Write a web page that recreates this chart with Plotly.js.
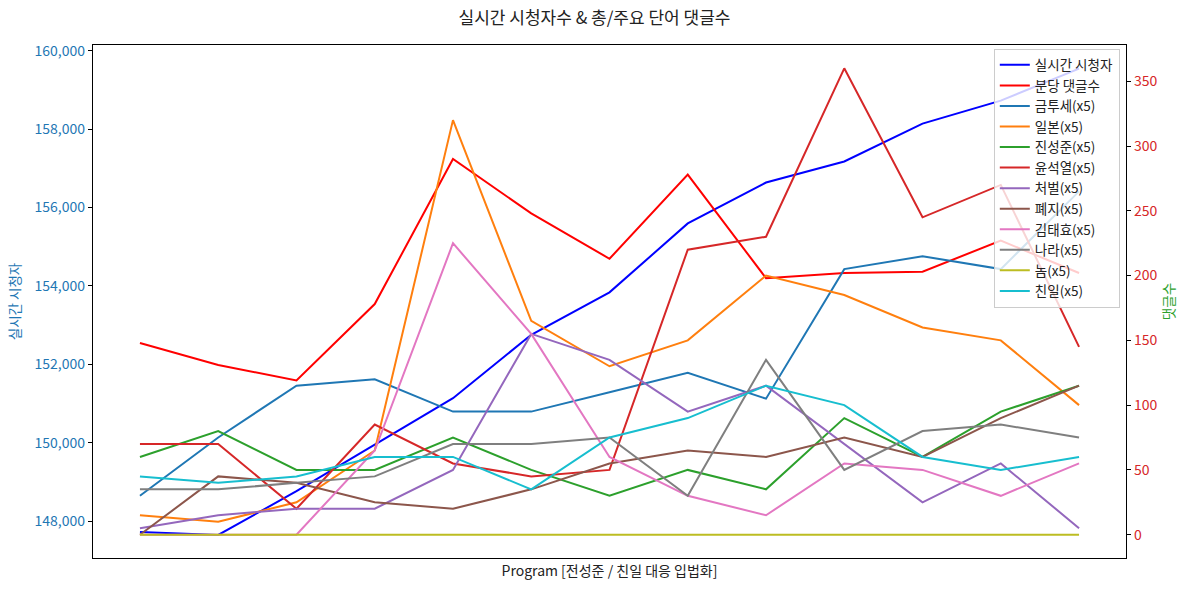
<!DOCTYPE html>
<html>
<head>
<meta charset="utf-8">
<script src="https://cdn.plot.ly/plotly-3.0.1.min.js"></script>
<style>body{margin:0;padding:0;background:#fff;}#chart{width:1189px;height:593px;}</style>
</head>
<body>
<div id="chart"></div>
<script>
const xIndex = [0,1,2,3,4,5,6,7,8,9,10,11,12];
const viewers = [147720,147643,148760,149936,151134,152750,153834,155592,156637,157172,158140,158726,159541];
const commentsPerMin = [148,131,119,178,290,248,213,278,198,202,203,227,202];
const kwNames = ['금투세(x5)','일본(x5)','진성준(x5)','윤석열(x5)','처벌(x5)','폐지(x5)','김태효(x5)','나라(x5)','놈(x5)','친일(x5)'];
const kwColors = ['#1f77b4','#ff7f0e','#2ca02c','#d62728','#9467bd','#8c564b','#e377c2','#7f7f7f','#bcbd22','#17becf'];
const kw금투세 = [30,75,115,120,95,95,110,125,105,205,215,205,265];
const kw일본 = [15,10,25,65,320,165,130,150,200,185,160,150,100];
const kw진성준 = [60,80,50,50,75,50,30,50,35,90,60,95,115];
const kw윤석열 = [70,70,20,85,55,45,50,220,230,360,245,270,145];
const kw처벌 = [5,15,20,20,50,155,135,95,115,70,25,55,5];
const kw폐지 = [0,45,40,25,20,35,55,65,60,75,60,90,115];
const kw김태효 = [0,0,0,65,225,155,60,30,15,55,50,30,55];
const kw나라 = [35,35,40,45,70,70,75,30,135,50,80,85,75];
const kw놈 = [0,0,0,0,0,0,0,0,0,0,0,0,0];
const kw친일 = [45,40,45,60,60,35,75,90,115,100,60,50,60];
const kwValues = [kw금투세,kw일본,kw진성준,kw윤석열,kw처벌,kw폐지,kw김태효,kw나라,kw놈,kw친일];

const FONT = '"Noto Sans CJK KR", "Noto Sans", sans-serif';
const traces = [
  {x:xIndex, y:viewers, name:'실시간 시청자', type:'scatter', mode:'lines', line:{color:'#0000ff', width:2}, yaxis:'y'},
  {x:xIndex, y:commentsPerMin, name:'분당 댓글수', type:'scatter', mode:'lines', line:{color:'#ff0000', width:2}, yaxis:'y2'}
];
kwNames.forEach((n,i)=>{
  traces.push({x:xIndex, y:kwValues[i], name:n, type:'scatter', mode:'lines', line:{color:kwColors[i], width:2}, yaxis:'y2'});
});

const layout = {
  width:1189, height:593,
  paper_bgcolor:'#fff', plot_bgcolor:'#fff',
  font:{family:FONT, size:13, color:'#222'},
  margin:{l:93, r:63, t:45, b:35},
  title:{text:'실시간 시청자수 & 총/주요 단어 댓글수', x:0.5, xref:'container', y:0.97, yref:'container', yanchor:'middle', font:{family:FONT, size:17, color:'#222'}},
  showlegend:true,
  legend:{x:0.994, xanchor:'right', y:0.993, yanchor:'top', bgcolor:'rgba(255,255,255,0.8)', bordercolor:'#cccccc', borderwidth:1, font:{family:FONT, size:13.5, color:'#222'}},
  xaxis:{range:[-0.6,12.6], showticklabels:false, ticks:'', showgrid:false, zeroline:false, showline:true, linecolor:'#000', linewidth:1.2, mirror:true,
         title:{text:'Program [전성준 / 친일 대응 입법화]', font:{family:FONT, size:14, color:'#222'}, standoff:8}},
  yaxis:{range:[147056,160145], tickvals:[148000,150000,152000,154000,156000,158000,160000], tickformat:',d', ticks:'outside', ticklen:4, tickcolor:'#000',
         tickfont:{family:FONT, size:14, color:'#1f77b4'}, showgrid:false, zeroline:false, showline:true, linecolor:'#000', linewidth:1.2,
         title:{text:'실시간 시청자', font:{family:FONT, size:13.5, color:'#1f77b4'}, standoff:10}},
  yaxis2:{range:[-18,378], overlaying:'y', side:'right', tickvals:[0,50,100,150,200,250,300,350], ticks:'outside', ticklen:4, tickcolor:'#000',
          tickfont:{family:FONT, size:14, color:'#d62728'}, showgrid:false, zeroline:false, showline:true, linecolor:'#000', linewidth:1.2,
          title:{text:'댓글수', font:{family:FONT, size:13.5, color:'#2ca02c'}, standoff:8}}
};
Plotly.newPlot('chart', traces, layout, {displayModeBar:false, staticPlot:true});
</script>
</body>
</html>
